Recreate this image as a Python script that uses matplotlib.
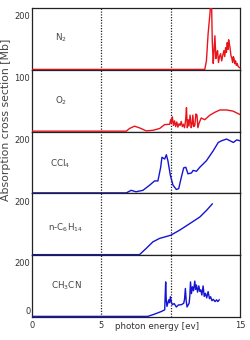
import matplotlib
matplotlib.use("Agg")
import matplotlib.pyplot as plt

RED = "#e8141c"
BLUE = "#1414d2"
TXT = "#333333"

# ---- data (photon energy eV, cross section Mb) ----
n2_x = [0, 12.46, 12.58, 12.7, 12.83, 12.9, 12.95, 13.0, 13.07, 13.12, 13.19, 13.26, 13.32, 13.38,
        13.45, 13.52, 13.6, 13.68, 13.76, 13.84, 13.9, 13.96, 14.02, 14.08, 14.13, 14.18, 14.23,
        14.28, 14.35, 14.41, 14.47, 14.52, 14.57, 14.63, 14.68, 14.74, 14.8, 14.87, 14.95, 15.0]
n2_y = [0, 0, 31, 125, 194, 240, 230, 100, 21, 60, 118, 38, 55, 66,
        24, 45, 55, 30, 50, 66, 45, 76, 60, 94, 70, 104, 90,
        76, 48, 40, 24, 45, 38, 20, 30, 14, 21, 10, 7, 6]

o2_x = [0, 6.8, 7.03, 7.39, 7.75, 8.24, 8.72, 9.2, 9.57, 9.93, 10.0, 10.05, 10.12, 10.2, 10.28,
        10.36, 10.44, 10.52, 10.6, 10.68, 10.76, 10.84, 10.92, 11.0, 11.08, 11.14, 11.2, 11.26,
        11.32, 11.4, 11.48, 11.54, 11.6, 11.66, 11.74, 11.82, 11.9, 11.96, 12.05, 12.2, 12.46,
        12.83, 13.19, 13.55, 14.03, 14.5, 15.0]
o2_y = [0, 0, 4.6, 8.7, 5.8, 0.5, 1.5, 4.6, 11.5, 12, 20, 14, 25, 10, 18,
        8, 16, 7, 13, 10, 17, 8, 12, 6, 20, 41, 6, 20,
        9, 28, 6, 12, 28, 8, 10, 30, 28, 6, 14, 23, 20,
        28, 33, 37, 37, 35, 29]

ccl4_x = [0, 6.8, 7.15, 7.5, 8.0, 8.48, 8.84, 9.08, 9.28, 9.37, 9.57, 9.69, 9.8, 9.98, 10.17,
          10.41, 10.58, 10.77, 10.94, 11.09, 11.25, 11.5, 11.62, 11.86, 12.1, 12.58, 13.07,
          13.43, 13.67, 14.03, 14.28, 14.52, 14.76, 15.0]
ccl4_y = [0, 0, 9, 4, 9, 27, 42, 42, 90, 125, 119, 134, 113, 61, 27,
          12, 15, 55, 88, 90, 67, 70, 79, 76, 90, 113, 148,
          177, 183, 189, 183, 177, 186, 183]

c6_x = [0, 7.75, 8.24, 8.72, 9.2, 10.0, 10.65, 11.38, 12.1, 12.58, 13.0]
c6_y = [0, 0, 22, 45, 57, 68, 86, 109, 132, 155, 178]

ch3cn_x = [0, 8.35, 8.84, 9.32, 9.57, 9.64, 9.68, 9.73, 9.86, 9.92, 9.98, 10.05, 10.12, 10.25,
           10.41, 10.55, 10.77, 10.94, 11.0, 11.06, 11.12, 11.18, 11.33, 11.38, 11.43, 11.5,
           11.57, 11.65, 11.74, 11.8, 11.86, 11.94, 12.03, 12.1, 12.17, 12.25, 12.34, 12.42,
           12.51, 12.6, 12.7, 12.8, 12.88, 12.98, 13.07, 13.2, 13.31, 13.4, 13.5]
ch3cn_y = [0, 0, 8, 17, 23, 121, 60, 35, 58, 48, 69, 50, 41, 45,
           33, 40, 41, 46, 60, 98, 55, 33, 46, 70, 121, 80,
           104, 90, 124, 95, 110, 85, 107, 88, 93, 75, 107, 70,
           81, 65, 87, 62, 69, 55, 60, 52, 58, 52, 58]

panels = [
    ("N$_2$", n2_x, n2_y, RED, 215, [200], ["200"]),
    ("O$_2$", o2_x, o2_y, RED, 107, [100], ["100"]),
    ("CCl$_4$", ccl4_x, ccl4_y, BLUE, 215, [200], ["200"]),
    ("n-C$_6$H$_{14}$", c6_x, c6_y, BLUE, 215, [200], ["200"]),
    ("CH$_3$CN", ch3cn_x, ch3cn_y, BLUE, 215, [0, 200], ["0", "200"]),
]
label_x = [2.1, 2.1, 2.0, 2.45, 2.45]
label_y = [0.52, 0.5, 0.48, 0.45, 0.5]

fig, axes = plt.subplots(5, 1, sharex=True, figsize=(2.5, 3.4), dpi=100)
fig.subplots_adjust(left=0.128, right=0.96, top=0.976, bottom=0.068, hspace=0)

for ax, (name, xs, ys, col, top, ticks, tlabels), lx, ly in zip(axes, panels, label_x, label_y):
    ax.plot(xs, ys, color=col, lw=1.0, zorder=3)
    ax.set_ylim(-top * 0.008, top)
    ax.set_xlim(0, 15)
    for v in (5, 10):
        ax.axvline(v, color="#222222", lw=0.9, ls=(0, (1, 1.2)), zorder=2)
    ax.set_yticks([])
    for v, lab in zip(ticks, tlabels):
        ax.text(-0.008, v, lab, transform=ax.get_yaxis_transform(), ha="right",
                va="top" if v > 0 else "bottom", fontsize=6, color=TXT, clip_on=False)
    ax.tick_params(axis="both", length=0, labelsize=6, labelcolor=TXT)
    for s in ax.spines.values():
        s.set_color("#222222")
        s.set_linewidth(0.9)
    ax.text(lx, ly, name, transform=ax.get_xaxis_transform(), fontsize=6.3,
            color="#444444", ha="center", va="center")

axb = axes[-1]
axb.set_xticks([0, 5, 15])
axb.set_xticklabels(["0", "5", "15"])
axb.tick_params(axis="x", pad=3)
axb.set_xlabel("photon energy [ev]", fontsize=6.3, color=TXT)
axb.xaxis.label.set_va("center")
axb.xaxis.set_label_coords(0.6, -0.15)

fig.text(6 / 250, 1 - 120 / 340, "Absorption cross section [Mb]", rotation=90,
         ha="center", va="center", fontsize=7.8, color="#444444")

fig.savefig("out.png", dpi=100)
